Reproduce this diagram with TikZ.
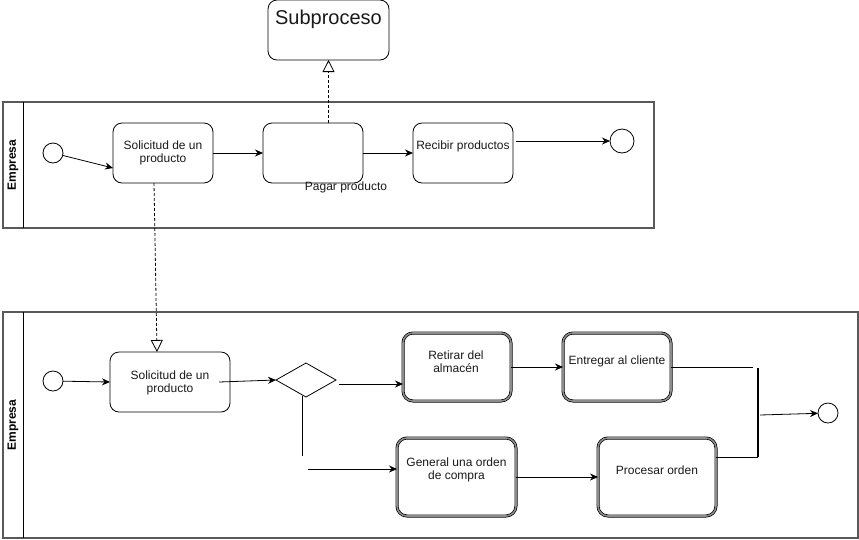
\documentclass[tikz,border=0pt]{standalone}
\usepackage{fontspec}
\setmainfont{Liberation Sans}
\usetikzlibrary{arrows.meta,shapes.geometric,calc}
\begin{document}
\begin{tikzpicture}[x=1pt,y=-1pt,
  every node/.style={inner sep=0pt,outer sep=0pt},
  txt/.style={font=\fontsize{12}{13.5}\selectfont,align=center,text=black!90},
  lanelabel/.style={font=\fontsize{12}{14}\selectfont\bfseries,rotate=90},
  pool/.style={draw=black!65,line width=1.4pt},
  lanediv/.style={draw=black,line width=0.9pt},
  taskbox/.style={draw=black,line width=0.8pt,rounded corners=9pt,rectangle},
  dtask/.style={draw=black,line width=0.7pt,double=black!45,double distance=1.6pt,rounded corners=10pt,rectangle},
  evt/.style={draw=black,line width=0.8pt,circle,fill=white},
  flow/.style={draw=black,line width=0.8pt,-{Stealth[length=8pt,width=7pt]}},
  plain/.style={draw=black,line width=0.8pt},
  assoc/.style={draw=black,line width=0.8pt,dash pattern=on 3pt off 2pt,-{Triangle[open,length=12pt,width=12pt,fill=white]}}
]
\useasboundingbox (0,0) rectangle (859,539);

% ---------- top pool ----------
\draw[pool] (3,102) rectangle (654,228);
\draw[lanediv] (23,102) -- (23,228);
\node[lanelabel] (laneA) at (13,165) {Empresa};

\node[evt,minimum size=20pt] (sA) at (53,153) {};
\node[taskbox,minimum width=100pt,minimum height=60pt] (tA1) at (163,153) {};
\node[txt] (tA1t) at (163,153) {Solicitud de un\\producto};
\node[taskbox,minimum width=100pt,minimum height=60pt] (tA2) at (313,153) {};
\node[txt] (tA2t) at (346,187) {Pagar producto};
\node[taskbox,minimum width=100pt,minimum height=60pt] (tA3) at (463,153) {};
\node[txt] (tA3t) at (463,146) {Recibir productos};
\node[evt,minimum size=24pt] (eA) at (622,141) {};

\node[taskbox,minimum width=121pt,minimum height=60pt] (sub) at (328.5,30) {};
\node[font=\fontsize{20}{22}\selectfont,text=black!90] (subt) at (328.5,19) {Subproceso};

\draw[flow] (sA) -- ([yshift=-15pt]tA1.west);
\draw[flow] (tA1.east) -- (tA2.west);
\draw[flow] (tA2.east) -- (tA3.west);
\draw[flow] ([xshift=3pt,yshift=12pt]tA3.east) -- (eA);
\draw[assoc] (sub.south |- tA2.north) -- (sub.south);

% ---------- bottom pool ----------
\draw[pool] (3,312) rectangle (858,538);
\draw[lanediv] (23,312) -- (23,538);
\node[lanelabel] (laneB) at (13,425) {Empresa};

\node[evt,minimum size=20pt] (sB) at (53,381) {};
\node[taskbox,minimum width=120pt,minimum height=60pt] (tB1) at (170,382) {};
\node[txt] (tB1t) at (170,383) {Solicitud de un\\producto};
\node[diamond,draw=black,line width=0.8pt,minimum width=60pt,minimum height=34pt,aspect=1.76] (gw) at (306,380) {};
\node[dtask,minimum width=108pt,minimum height=68pt] (tB2) at (457,367) {};
\node[txt] (tB2t) at (456,361.5) {Retirar del\\almacén};
\node[dtask,minimum width=108pt,minimum height=68pt] (tB3) at (617,367) {};
\node[txt] (tB3t) at (617,361) {Entregar al cliente};
\node[dtask,minimum width=119pt,minimum height=78pt] (tB4) at (456.5,477) {};
\node[txt] (tB4t) at (456.5,470) {General una orden\\de compra};
\node[dtask,minimum width=118pt,minimum height=78pt] (tB5) at (657,477) {};
\node[txt] (tB5t) at (657,470) {Procesar orden};
\node[evt,minimum size=20pt] (eB) at (828,413) {};

\coordinate (gwA) at (302,456);
\coordinate (gwB) at (308,469);
\coordinate (j1) at (753,367);
\coordinate (barT) at (758,368);
\coordinate (barB) at (758,457);
\coordinate (barM) at (760,415);

\draw[assoc] ([xshift=-9pt]tA1.south) -- ([xshift=-13pt]tB1.north);

\draw[flow] (sB) -- (tB1.west);
\draw[flow] ([xshift=-11pt]tB1.east) -- (gw.west);
\draw[flow] ([xshift=3pt,yshift=-4pt]gw.east) -- ([yshift=-17pt]tB2.west);
\draw[plain] ([xshift=-4pt,yshift=1pt]gw.south) -- (gwA);
\draw[flow] (gwB) -- ([yshift=8pt]tB4.west);
\draw[flow] (tB2.east) -- (tB3.west);
\draw[flow] (tB4.east) -- (tB5.west);
\draw[plain] (tB3.east) -- (j1);
\draw[plain] ([yshift=20pt]tB5.east) -- (barB);
\draw[draw=black,line width=2pt] (barT) -- (barB);
\draw[flow] (barM) -- (eB);
\end{tikzpicture}
\end{document}
